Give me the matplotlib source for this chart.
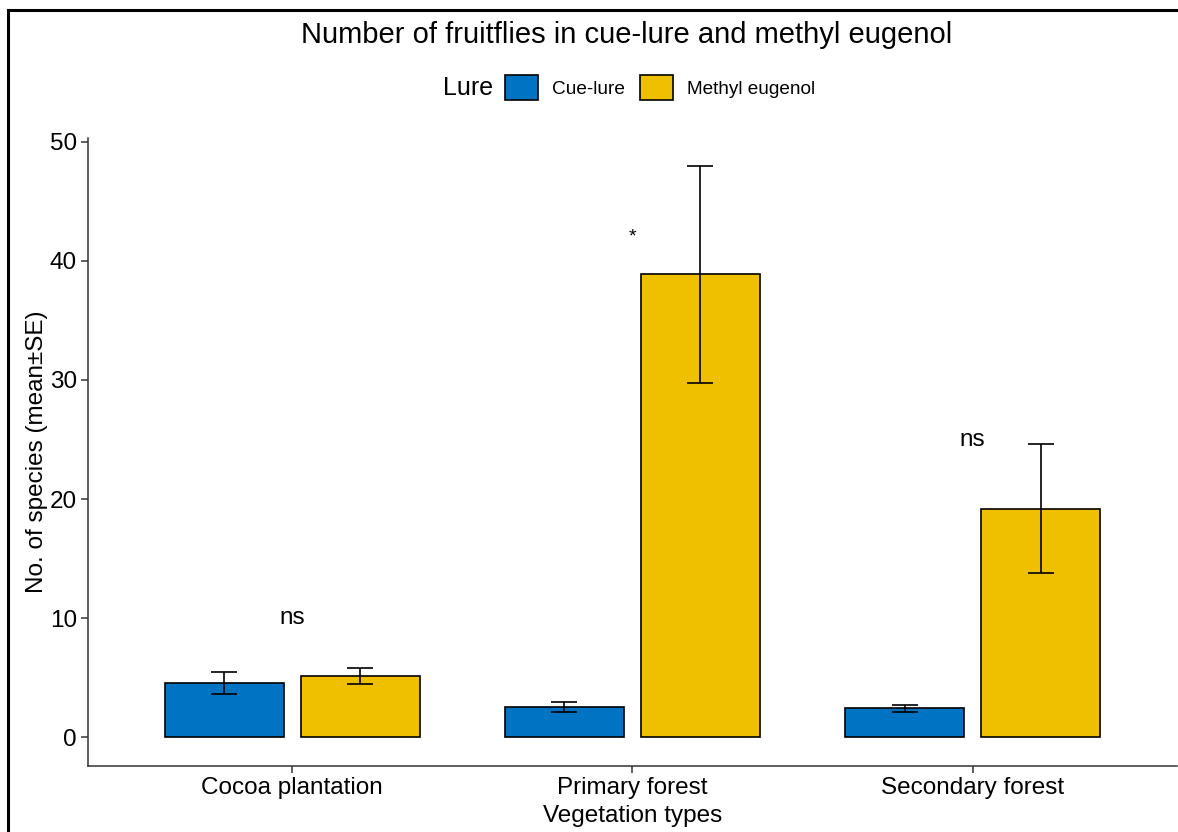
"""Bar chart of fruitflies caught with cue-lure vs methyl eugenol."""

import matplotlib.pyplot as plt
import numpy as np
from matplotlib.lines import Line2D
from matplotlib.patches import Patch

plt.rcParams["font.family"] = ["Liberation Sans", "DejaVu Sans"]

# ── Data ────────────────────────────────────────────────────────────────────
vegetation = ["Cocoa plantation", "Primary forest", "Secondary forest"]
lures = ["Cue-lure", "Methyl eugenol"]
cue_mean = [4.6, 2.55, 2.45]
cue_se = [0.92, 0.45, 0.30]
me_mean = [5.18, 38.85, 19.2]
me_se = [0.67, 9.07, 5.43]
sig_labels = ["ns", "*", "ns"]
sig_y = [10, 42, 25]

colors = ["#0073C2", "#EFC000"]

# ── Figure ──────────────────────────────────────────────────────────────────
fig = plt.figure(figsize=(11.78, 8.32), dpi=100)
ax = fig.add_axes([0.0747, 0.0793, 0.9243, 0.7548])

x = np.arange(1, len(vegetation) + 1)
width = 0.35
offset = 0.2
for i, (means, ses) in enumerate([(cue_mean, cue_se), (me_mean, me_se)]):
    pos = x + (i * 2 - 1) * offset
    ax.bar(pos, means, width=width, color=colors[i], edgecolor="black",
           linewidth=1.2, zorder=2)
    ax.errorbar(pos, means, yerr=ses, fmt="none", ecolor="black",
                elinewidth=1.2, capsize=9.4, capthick=1.2, zorder=3)

for xi, lab, yi in zip(x, sig_labels, sig_y):
    ax.text(xi, yi, lab, ha="center", va="center", fontsize=14 if lab == "*" else 17.5)

ax.set_xlim(0.4, 3.6)
ax.set_ylim(-2.4, 50.3)
ax.set_xticks(x)
ax.set_xticklabels(vegetation)
ax.set_yticks([0, 10, 20, 30, 40, 50])
ax.tick_params(axis="both", labelsize=17.5, length=5, width=1.1, direction="out",
               color="#333333", labelcolor="black", pad=3)
ax.spines["top"].set_visible(False)
ax.spines["right"].set_visible(False)
for s in ["left", "bottom"]:
    ax.spines[s].set_linewidth(1.1)
    ax.spines[s].set_color("#333333")
ax.set_xlabel("Vegetation types", fontsize=17.5, labelpad=4)
ax.set_ylabel("No. of species (mean±SE)", fontsize=17.5, labelpad=1)

fig.text(0.532, 0.958, "Number of fruitflies in cue-lure and methyl eugenol",
         ha="center", va="center", fontsize=21)

# legend with title on the left, ggplot style
fig.text(0.376, 0.894, "Lure", ha="left", va="center", fontsize=18)
handles = [Patch(facecolor=c, edgecolor="black", linewidth=1.2) for c in colors]
fig.legend(handles, lures, loc="center", bbox_to_anchor=(0.5604, 0.895), ncol=2,
           frameon=False, fontsize=13.7, handlelength=1.74, handleheight=1.63,
           handletextpad=0.74, columnspacing=0.79, borderaxespad=0)

# frame lines on top and left of the figure
fig.add_artist(Line2D([8 / 1178, 8 / 1178], [0, 1 - 10 / 832],
                      transform=fig.transFigure, color="black", lw=2.2))
fig.add_artist(Line2D([8 / 1178, 1], [1 - 10 / 832, 1 - 10 / 832],
                      transform=fig.transFigure, color="black", lw=2.2))

fig.savefig("out.png", dpi=100)
